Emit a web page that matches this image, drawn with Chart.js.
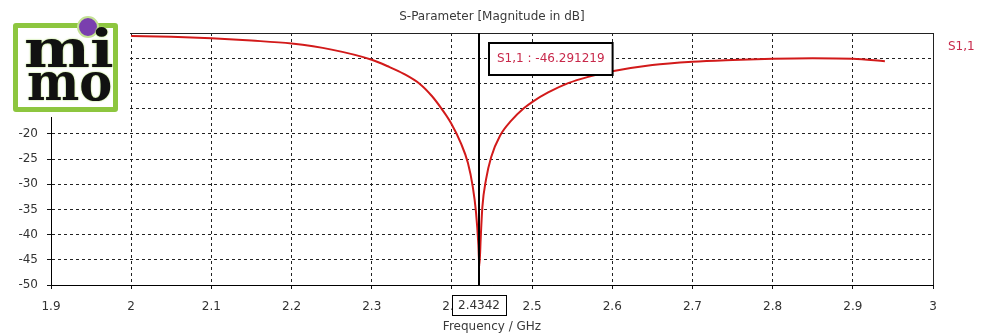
<!DOCTYPE html>
<html>
<head>
<meta charset="utf-8">
<title>S-Parameter</title>
<script src="https://cdn.jsdelivr.net/npm/chart.js@4.4.1/dist/chart.umd.min.js"></script>
<style>
  html, body { margin: 0; padding: 0; background: #fff; }
  #wrap { position: relative; width: 1000px; height: 333px; overflow: hidden; }
  #logo { position: absolute; left: 0; top: 0; width: 130px; height: 117px; background: #fff; }
  #logo .frame { position: absolute; left: 13px; top: 23px; width: 105px; height: 89px;
    box-sizing: border-box; border: 5px solid #8dc63f; border-radius: 3px; }
  #logo .dot { position: absolute; left: 77px; top: 16px; width: 22px; height: 22px; box-sizing: border-box;
    border-radius: 50%; background: #7a3fae; border: 2px solid #c4e294; }
  #logo .word { position: absolute; font: bold 52px "DejaVu Serif"; line-height: 1; color: #111;
    transform-origin: left top; text-shadow: 0 0 2px #b8de80, 0 0 1px #b8de80; }
  #logo .mi { left: 24px; top: 23px; transform: scaleX(1.2); }
  #logo .mo { left: 27px; top: 56px; transform: scaleX(0.95); }
</style>
</head>
<body>
<div id="wrap">
  <canvas id="chart" width="1000" height="333"></canvas>
  <div id="logo">
    <div class="frame"></div>
    <div class="dot"></div>
    <div class="word mi">mi</div>
    <div class="word mo">mo</div>
  </div>
</div>
<script>
// ---------- Data ----------
const freqGHz = [2.00, 2.05, 2.10, 2.15, 2.20, 2.25, 2.30, 2.32, 2.34, 2.36, 2.375, 2.387, 2.399, 2.411, 2.42,
  2.426, 2.43, 2.433, 2.4342, 2.436, 2.438, 2.4425, 2.449, 2.46, 2.474, 2.49, 2.50, 2.52, 2.545, 2.57,
  2.60, 2.65, 2.70, 2.75, 2.80, 2.85, 2.90, 2.94];
const s11dB = [-0.6, -0.75, -1.05, -1.5, -2.1, -3.3, -5.3, -6.6, -8.1, -10.1, -12.5, -15.0, -17.9, -21.8, -25.8,
  -30.5, -35.5, -42.0, -46.29, -40.4, -34.5, -29.1, -24.6, -20.4, -17.4, -14.9, -13.7, -11.8, -9.95, -8.7,
  -7.6, -6.35, -5.7, -5.35, -5.1, -5.0, -5.1, -5.6];

const xTickValues = [1.9, 2, 2.1, 2.2, 2.3, 2.4, 2.5, 2.6, 2.7, 2.8, 2.9, 3];
const yTickValues = [0, -5, -10, -15, -20, -25, -30, -35, -40, -45, -50];

const seriesName = "S1,1";
const chartTitle = "S-Parameter [Magnitude in dB]";
const xAxisTitle = "Frequency / GHz";
const markerFreq = 2.4342;
const markerValue = -46.291219;

const FONT = "DejaVu Sans";
const RED = "#d21a1a";
const LABEL_RED = "#c8284a";

// ---------- Overlay (frame, marker, texts) ----------
const overlay = {
  id: "overlay",
  afterDatasetsDraw(chart) {
    const { ctx, chartArea: a, scales } = chart;
    const mx = Math.round(scales.x.getPixelForValue(markerFreq));

    ctx.save();
    // frame top + right
    ctx.strokeStyle = "#222";
    ctx.lineWidth = 1;
    ctx.beginPath();
    ctx.moveTo(a.left, a.top + 0.5);
    ctx.lineTo(a.right + 0.5, a.top + 0.5);
    ctx.lineTo(a.right + 0.5, a.bottom);
    ctx.stroke();

    // marker line
    ctx.strokeStyle = "#000";
    ctx.lineWidth = 2;
    ctx.beginPath();
    ctx.moveTo(mx, a.top);
    ctx.lineTo(mx, a.bottom);
    ctx.stroke();

    // marker value box
    ctx.font = "12px " + FONT;
    const txt = seriesName + " : " + markerValue.toFixed(6);
    const tw = ctx.measureText(txt).width;
    const bx = mx + 10, by = a.top + 10, bw = tw + 16, bh = 32;
    ctx.fillStyle = "#fff";
    ctx.fillRect(bx, by, bw, bh);
    ctx.strokeStyle = "#000";
    ctx.lineWidth = 2;
    ctx.strokeRect(bx, by, bw, bh);
    ctx.fillStyle = LABEL_RED;
    ctx.textAlign = "center";
    ctx.textBaseline = "middle";
    ctx.fillText(txt, bx + bw / 2, by + bh / 2);

    // marker frequency box on x axis
    const ft = String(markerFreq);
    const fw = ctx.measureText(ft).width + 12;
    ctx.fillStyle = "#fff";
    ctx.fillRect(mx - fw / 2, 295, fw, 20);
    ctx.strokeStyle = "#000";
    ctx.lineWidth = 1;
    ctx.strokeRect(Math.round(mx - fw / 2) + 0.5, 295.5, Math.round(fw), 20);
    ctx.fillStyle = "#333";
    ctx.fillText(ft, mx, 305.5);

    // title, legend, axis title
    ctx.fillStyle = "#3a3a3a";
    ctx.fillText(chartTitle, (a.left + a.right) / 2, 17);
    ctx.fillText(xAxisTitle, (a.left + a.right) / 2, 327);
    ctx.fillStyle = LABEL_RED;
    ctx.textAlign = "left";
    ctx.fillText(seriesName, 948, 47);
    ctx.restore();
  }
};

// ---------- Chart ----------
function axisGrid() {
  return {
    grid: { color: "#222", lineWidth: 1, tickLength: 4, tickColor: "#111", tickBorderDash: [] },
    border: { color: "#000", width: 1, dash: [3, 3] }
  };
}

const ctx = document.getElementById("chart").getContext("2d");
new Chart(ctx, {
  type: "line",
  data: {
    datasets: [{
      label: seriesName,
      data: freqGHz.map((f, i) => ({ x: f, y: s11dB[i] })),
      borderColor: RED,
      borderWidth: 2,
      pointRadius: 0,
      fill: false,
      cubicInterpolationMode: "monotone"
    }]
  },
  options: {
    responsive: false,
    animation: false,
    layout: { padding: { left: 0, top: 33, right: 67, bottom: 0 } },
    plugins: { legend: { display: false }, tooltip: { enabled: false } },
    scales: {
      x: {
        type: "linear", min: 1.9, max: 3,
        afterBuildTicks: s => { s.ticks = xTickValues.map(v => ({ value: v })); },
        afterFit: s => { s.height = 48; },
        ticks: { color: "#333", font: { family: FONT, size: 12 }, padding: 11, maxRotation: 0, autoSkip: false,
          callback: v => String(v) },
        ...axisGrid()
      },
      y: {
        type: "linear", min: -50, max: 0,
        afterBuildTicks: s => { s.ticks = yTickValues.map(v => ({ value: v })); },
        afterFit: s => { s.width = 51; },
        ticks: { color: "#333", font: { family: FONT, size: 12 }, padding: 9, autoSkip: false,
          callback: v => String(v) },
        ...axisGrid()
      }
    }
  },
  plugins: [overlay]
});
</script>
</body>
</html>
